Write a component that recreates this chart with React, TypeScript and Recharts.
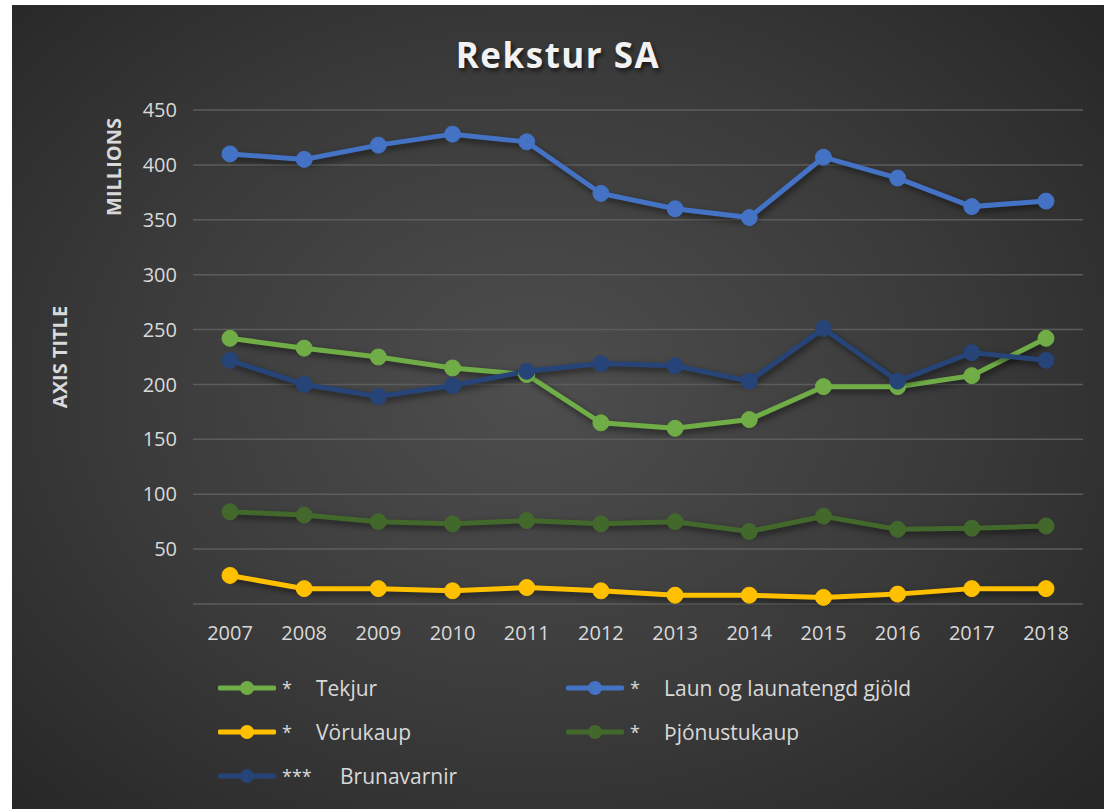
import { CartesianGrid, Line, LineChart, XAxis, YAxis } from "recharts";

const years = ["2007", "2008", "2009", "2010", "2011", "2012", "2013", "2014", "2015", "2016", "2017", "2018"];

const tekjur = [242, 233, 225, 215, 209, 165, 160, 168, 198, 198, 208, 242];
const laun = [410, 405, 418, 428, 421, 374, 360, 352, 407, 388, 362, 367];
const vorukaup = [26, 14, 14, 12, 15, 12, 8, 8, 6, 9, 14, 14];
const thjonustukaup = [84, 81, 75, 73, 76, 73, 75, 66, 80, 68, 69, 71];
const brunavarnir = [222, 200, 189, 199, 212, 219, 217, 203, 251, 203, 229, 222];

const yTicks = [0, 50, 100, 150, 200, 250, 300, 350, 400, 450];

const SERIES = [
  { key: "tekjur", name: "Tekjur", mark: "*", color: "#70AD47" },
  { key: "laun", name: "Laun og launatengd gjöld", mark: "*", color: "#4472C4" },
  { key: "vorukaup", name: "Vörukaup", mark: "*", color: "#FFC000" },
  { key: "thjonustukaup", name: "Þjónustukaup", mark: "*", color: "#43682B" },
  { key: "brunavarnir", name: "Brunavarnir", mark: "***", color: "#264478" },
];

const data = years.map((year, i) => ({
  year,
  tekjur: tekjur[i],
  laun: laun[i],
  vorukaup: vorukaup[i],
  thjonustukaup: thjonustukaup[i],
  brunavarnir: brunavarnir[i],
}));

const FONT = "'Open Sans', sans-serif";
const TEXT = "#d9d9d9";

// legend laid out in two columns like the Excel original
function ChartLegend() {
  return (
    <div style={{ position: "absolute", left: 0, top: 668, width: 1092, height: 140 }}>
      {SERIES.map((s, i) => {
        const col = i % 2;
        const row = Math.floor(i / 2);
        return (
          <div
            key={s.key}
            style={{
              position: "absolute",
              left: 206 + col * 348,
              top: row * 44,
              height: 30,
              display: "flex",
              alignItems: "center",
              color: TEXT,
              fontSize: 21,
            }}
          >
            <svg width={58} height={20}>
              <line x1={2} y1={10} x2={56} y2={10} stroke={s.color} strokeWidth={5} strokeLinecap="round" />
              <circle cx={29} cy={10} r={7} fill={s.color} />
            </svg>
            <span style={{ width: s.mark.length > 1 ? 58 : 34, paddingLeft: 6, fontSize: 18 }}>{s.mark}</span>
            <span>{s.name}</span>
          </div>
        );
      })}
    </div>
  );
}

export default function App() {
  return (
    <div
      style={{
        position: "absolute",
        left: 12,
        top: 5,
        width: 1092,
        height: 804,
        overflow: "hidden",
        background: "radial-gradient(ellipse 70% 75% at 48% 48%, #4e4e4e 0%, #3a3a3a 55%, #262626 100%)",
        fontFamily: FONT,
      }}
    >
      <style>{`.recharts-line { filter: drop-shadow(2px 3px 3px rgba(0,0,0,0.55)); }`}</style>
      <div
        style={{
          position: "absolute",
          left: 0,
          width: 1092,
          top: 26,
          textAlign: "center",
          color: "#f2f2f2",
          fontSize: 35,
          fontWeight: 700,
          letterSpacing: 1.5,
          textShadow: "2px 3px 4px rgba(0,0,0,0.6)",
        }}
      >
        Rekstur SA
      </div>
      <div
        style={{
          position: "absolute",
          left: 101,
          top: 162,
          transform: "translate(-50%, -50%) rotate(-90deg)",
          color: TEXT,
          fontSize: 20,
          fontWeight: 700,
          whiteSpace: "nowrap",
        }}
      >
        MILLIONS
      </div>
      <div
        style={{
          position: "absolute",
          left: 47,
          top: 352,
          transform: "translate(-50%, -50%) rotate(-90deg)",
          color: TEXT,
          fontSize: 20,
          fontWeight: 700,
          whiteSpace: "nowrap",
        }}
      >
        AXIS TITLE
      </div>
      <LineChart
        width={1092}
        height={804}
        data={data}
        margin={{ top: 105, right: 21, left: 0, bottom: 165 }}
      >
        <CartesianGrid vertical={false} stroke="#5c5c5c" strokeWidth={1.5} />
        <XAxis
          dataKey="year"
          axisLine={false}
          tickLine={false}
          padding={{ left: 37, right: 37 }}
          tick={{ fill: TEXT, fontSize: 20 }}
          tickMargin={16}
          height={40}
          interval={0}
        />
        <YAxis
          width={181}
          domain={[0, 450]}
          ticks={yTicks}
          axisLine={false}
          tickLine={false}
          tick={{ fill: TEXT, fontSize: 20 }}
          tickMargin={10}
          tickFormatter={(v: number) => (v === 0 ? "" : String(v))}
        />
        {SERIES.map((s) => (
          <Line
            key={s.key}
            dataKey={s.key}
            name={s.name}
            stroke={s.color}
            strokeWidth={5}
            dot={{ r: 8, fill: s.color, stroke: s.color, strokeWidth: 1 }}
            activeDot={false}
            isAnimationActive={false}
          />
        ))}
      </LineChart>
      <ChartLegend />
    </div>
  );
}
